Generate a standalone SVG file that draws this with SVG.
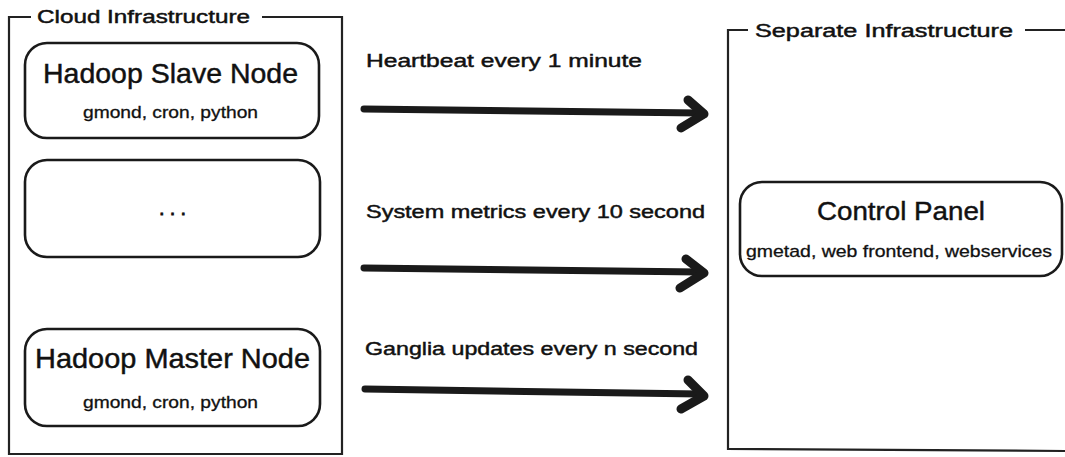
<svg xmlns="http://www.w3.org/2000/svg" width="1065" height="457" viewBox="0 0 1065 457">
<style>
text{font-family:"Comic Sans MS","Liberation Sans","DejaVu Sans",sans-serif;fill:#111;stroke:#111;stroke-width:0.45}
.frame{fill:none;stroke:#222;stroke-width:2.2}
.box{fill:#fff;stroke:#1a1a1a;stroke-width:2.6}
.title{font-size:28px}
.sub{font-size:16px;stroke-width:0.3}
.lbl{font-size:18px}
.ftitle{font-size:18px}
.shaft{fill:none;stroke:#1a1a1a;stroke-width:7;stroke-linecap:round}
.head{fill:none;stroke:#1a1a1a;stroke-width:9;stroke-linecap:round;stroke-linejoin:round}
</style>
<rect width="1065" height="457" fill="#fff"/>
<g id="cloud-infrastructure">
<path class="frame" d="M31,17 L9,17 L9,454 L342,454 L342,17 L262,17"/>
<text class="ftitle" x="37" y="23" textLength="213" lengthAdjust="spacingAndGlyphs">Cloud Infrastructure</text>
</g>
<g id="separate-infrastructure">
<path class="frame" d="M748,30 L728,30 L728,449 L1065,451"/>
<path class="frame" d="M1025,30 L1065,30"/>
<text class="ftitle" x="755" y="37" textLength="258" lengthAdjust="spacingAndGlyphs">Separate Infrastructure</text>
</g>
<g id="hadoop-slave-node">
<rect class="box" x="25" y="43" width="294" height="95" rx="22"/>
<text class="title" x="43" y="83" textLength="255" lengthAdjust="spacingAndGlyphs">Hadoop Slave Node</text>
<text class="sub" x="83" y="118" textLength="175" lengthAdjust="spacingAndGlyphs">gmond, cron, python</text>
</g>
<g id="ellipsis-node">
<rect class="box" x="25" y="160" width="295" height="97" rx="22"/>
<text x="159" y="215" style="font-size:20px;stroke-width:0.8" textLength="27" lengthAdjust="spacing">...</text>
</g>
<g id="hadoop-master-node">
<rect class="box" x="25" y="329" width="295" height="97" rx="22"/>
<text class="title" x="35" y="368" textLength="275" lengthAdjust="spacingAndGlyphs">Hadoop Master Node</text>
<text class="sub" x="83" y="408" textLength="175" lengthAdjust="spacingAndGlyphs">gmond, cron, python</text>
</g>
<g id="control-panel">
<rect class="box" x="740" y="182" width="322" height="94" rx="22"/>
<text class="title" x="817" y="220" style="font-size:26px" textLength="168" lengthAdjust="spacingAndGlyphs">Control Panel</text>
<text class="sub" x="746" y="257" style="font-size:17px" textLength="306" lengthAdjust="spacingAndGlyphs">gmetad, web frontend, webservices</text>
</g>
<g id="connectors">
<g id="heartbeat">
<path class="shaft" d="M364,109 L700,113"/>
<path class="head" d="M688,100 L704,114 L681,128"/>
<text class="lbl" x="366" y="67" textLength="276" lengthAdjust="spacingAndGlyphs">Heartbeat every 1 minute</text>
</g>
<g id="system-metrics">
<path class="shaft" d="M364,268 L700,272"/>
<path class="head" d="M686,259 L704,273 L680,288"/>
<text class="lbl" x="366" y="218" textLength="339" lengthAdjust="spacingAndGlyphs">System metrics every 10 second</text>
</g>
<g id="ganglia-updates">
<path class="shaft" d="M365,389 L700,394"/>
<path class="head" d="M688,380 L704,396 L681,409"/>
<text class="lbl" x="365" y="355" textLength="333" lengthAdjust="spacingAndGlyphs">Ganglia updates every n second</text>
</g>
</g>
</svg>
